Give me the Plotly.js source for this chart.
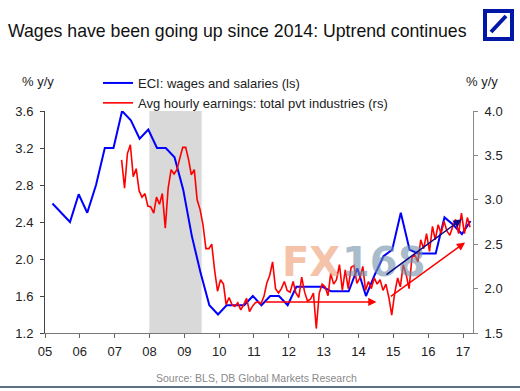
<!DOCTYPE html>
<html>
<head>
<meta charset="utf-8">
<script src="https://cdn.plot.ly/plotly-3.0.1.min.js"></script>
<style>
  html, body { margin: 0; padding: 0; background: #ffffff; }
  #chart { width: 520px; height: 391px; }
</style>
</head>
<body>
<div id="chart"></div>
<script>
// ---------------- data ----------------
// ECI: wages and salaries, quarterly from 2005 Q1 (% y/y, left scale)
const eciStartYear = 2005;
const eciValues = [
  2.6, 2.5, 2.4, 2.7,
  2.5, 2.8, 3.2, 3.2,
  3.6, 3.5, 3.3, 3.4,
  3.2, 3.2, 3.1, 2.75,
  2.25, 1.85, 1.5, 1.4,
  1.5, 1.5, 1.5, 1.6,
  1.5, 1.6, 1.6, 1.5,
  1.7, 1.7, 1.7, 1.7,
  1.65, 1.65, 1.65, 1.9,
  1.6, 1.83, 2.03, 2.1,
  2.5, 2.1, 2.06, 2.06,
  2.06, 2.45, 2.37, 2.27,
  2.41
];
// Avg hourly earnings: total private industries, monthly from Mar 2007 (% y/y, right scale)
const aheStartYear = 2007;
const aheStartMonth = 3;
const aheValues = [
  3.45, 3.13, 3.52, 3.62, 3.26, 3.35, 3.10, 3.03, 3.07, 2.93,
  2.92, 2.85, 3.03, 2.95, 3.07, 2.68, 3.13, 3.34, 3.29, 3.34,
  3.47, 3.59, 3.59, 3.45, 3.28, 3.34, 3.00, 2.89, 2.72, 2.45,
  2.45, 2.50, 2.20, 1.97, 2.10, 2.05, 1.82, 1.90, 1.82, 1.80,
  1.84, 1.76, 1.82, 1.89, 1.74, 1.80, 1.84, 1.85, 1.83, 1.91,
  2.06, 2.15, 2.30, 2.00, 1.95, 2.00, 2.08, 1.98, 1.96, 2.08,
  1.95, 1.90, 2.13, 1.96, 1.86, 1.88, 1.95, 1.55, 1.95, 2.05,
  2.02, 1.92, 2.17, 2.05, 2.10, 2.27, 1.98, 2.21, 2.00, 2.24,
  2.26, 2.06, 2.12, 2.25, 1.98, 2.08, 2.00, 2.12, 2.05, 2.10,
  1.98, 2.05, 1.90, 1.70, 1.95, 2.12, 2.02, 2.27, 2.16, 2.00,
  2.35, 2.38, 2.30, 2.55, 2.45, 2.62, 2.42, 2.70, 2.55, 2.72,
  2.62, 2.76, 2.65, 2.60, 2.70, 2.78, 2.62, 2.85, 2.62, 2.80,
  2.69
];
const yearTicks = ['05','06','07','08','09','10','11','12','13','14','15','16','17'];
const recession = ['2007-12-31', '2009-07-01'];
// trend arrows: [tailDate, tailValue, headDate, headValue]
const arrowFlat   = ['2011-04-15', 1.85, '2014-07-08', 1.85];
const arrowRedUp  = ['2014-11-20', 1.90, '2017-01-22', 2.52];
const arrowBlueUp = ['2014-10-05', 1.82, '2016-12-16', 2.43];

// ---------------- build ----------------
function pad(n) { return (n < 10 ? '0' : '') + n; }
const qMonths = [3, 6, 9, 12];
const eciDates = eciValues.map((v, k) =>
  (eciStartYear + Math.floor(k / 4)) + '-' + pad(qMonths[k % 4]) + '-20');
const aheDates = aheValues.map((v, i) => {
  const m0 = aheStartMonth - 1 + i;
  return (aheStartYear + Math.floor(m0 / 12)) + '-' + pad(m0 % 12 + 1) + '-15';
});
const tickVals = yearTicks.map(t => '20' + t + '-01-01');

const FONT = 'Arial, "Liberation Sans", sans-serif';
const L = 45, R = 473, T = 111, B = 333;
const px = x => (x - L) / (R - L);
const py = y => (B - y) / (B - T);

const traces = [
  {
    x: eciDates, y: eciValues, type: 'scatter', mode: 'lines',
    name: 'ECI: wages and salaries (ls)',
    line: { color: '#0000ff', width: 2 }, yaxis: 'y'
  },
  {
    x: aheDates, y: aheValues, type: 'scatter', mode: 'lines',
    name: 'Avg hourly earnings: total pvt industries (rs)',
    line: { color: '#ff0000', width: 1.6 }, yaxis: 'y2'
  }
];

function arrow(a, yref, color) {
  return {
    x: a[2], y: a[3], ax: a[0], ay: a[1],
    xref: 'x', yref: yref, axref: 'x', ayref: yref,
    text: '', showarrow: true, arrowhead: 2, arrowsize: 1.1,
    arrowwidth: 1.5, arrowcolor: color
  };
}

const layout = {
  width: 520, height: 391,
  margin: { l: L, r: 520 - R, t: T, b: 391 - B, pad: 0 },
  paper_bgcolor: '#ffffff', plot_bgcolor: 'rgba(0,0,0,0)',
  font: { family: FONT, size: 13, color: '#222222' },
  title: {
    text: 'Wages have been going up since 2014: Uptrend continues',
    font: { family: FONT, size: 17.7, color: '#111111' },
    xref: 'container', yref: 'container', x: 8 / 520, xanchor: 'left',
    y: 1 - 31 / 391, yanchor: 'middle'
  },
  showlegend: true,
  legend: {
    x: px(98), y: py(68), xanchor: 'left', yanchor: 'top',
    bgcolor: 'rgba(0,0,0,0)', font: { family: FONT, size: 13, color: '#222' },
    tracegroupgap: 0
  },
  xaxis: {
    type: 'date', range: ['2005-01-01', '2017-04-15'],
    tickmode: 'array', tickvals: tickVals, ticktext: yearTicks,
    ticks: 'outside', ticklen: 4, tickcolor: '#666', showline: true,
    linecolor: '#777', linewidth: 1, showgrid: false, zeroline: false,
    tickfont: { family: FONT, size: 13, color: '#222' }, fixedrange: true,
    ticklabelstandoff: 2
  },
  yaxis: {
    range: [1.2, 3.6], tickmode: 'linear', tick0: 1.2, dtick: 0.4,
    tickformat: '.1f', ticks: 'outside', ticklen: 4, tickcolor: '#444',
    showline: true, linecolor: '#444', linewidth: 1, showgrid: false,
    zeroline: false, tickfont: { family: FONT, size: 13, color: '#222' },
    ticklabelstandoff: 4
  },
  yaxis2: {
    range: [1.5, 4.0], tickmode: 'linear', tick0: 1.5, dtick: 0.5,
    tickformat: '.1f', overlaying: 'y', side: 'right', anchor: 'x',
    ticks: 'outside', ticklen: 4, tickcolor: '#888', showline: true,
    linecolor: '#888', linewidth: 1, showgrid: false, zeroline: false,
    tickfont: { family: FONT, size: 13, color: '#222' },
    ticklabelstandoff: 4
  },
  shapes: [
    { type: 'rect', xref: 'x', yref: 'paper', x0: recession[0], x1: recession[1],
      y0: 0, y1: 1, fillcolor: '#d9d9d9', line: { width: 0 }, layer: 'below' },
    // logo
    { type: 'rect', xref: 'paper', yref: 'paper', x0: px(485), x1: px(512),
      y0: py(39), y1: py(11), fillcolor: '#ffffff', line: { color: '#0018a8', width: 4 } },
    { type: 'line', xref: 'paper', yref: 'paper', x0: px(491), y0: py(32),
      x1: px(506), y1: py(16), line: { color: '#0018a8', width: 4 } },
    // bottom rule
    { type: 'line', xref: 'paper', yref: 'paper', x0: px(0), x1: px(520),
      y0: py(387), y1: py(387), line: { color: '#5d7185', width: 2 } }
  ],
  annotations: [
    { text: '% y/y', xref: 'paper', yref: 'paper', x: px(38), y: py(81),
      xanchor: 'center', yanchor: 'middle', showarrow: false,
      font: { family: FONT, size: 13, color: '#222' } },
    { text: '% y/y', xref: 'paper', yref: 'paper', x: px(482), y: py(81),
      xanchor: 'center', yanchor: 'middle', showarrow: false,
      font: { family: FONT, size: 13, color: '#222' } },
    { text: 'Source: BLS, DB Global Markets Research', xref: 'paper', yref: 'paper',
      x: px(256), y: py(378), xanchor: 'center', yanchor: 'middle', showarrow: false,
      font: { family: FONT, size: 10.5, color: '#8a8a8a' } },
    { text: '<b>FX</b>', xref: 'paper', yref: 'paper', x: px(311), y: py(262),
      xanchor: 'center', yanchor: 'middle', showarrow: false, opacity: 0.6,
      font: { family: '"DejaVu Sans", sans-serif', size: 40, color: '#ef9a72' } },
    { text: '<b>168</b>', xref: 'paper', yref: 'paper', x: px(384), y: py(262),
      xanchor: 'center', yanchor: 'middle', showarrow: false, opacity: 0.6,
      font: { family: '"DejaVu Sans", sans-serif', size: 40, color: '#6f90ab' } },
    arrow(arrowFlat, 'y2', '#ff0000'),
    arrow(arrowRedUp, 'y2', '#ff0000'),
    arrow(arrowBlueUp, 'y', '#0a0a8a')
  ]
};

Plotly.newPlot('chart', traces, layout, { staticPlot: true, displayModeBar: false });
</script>
</body>
</html>
